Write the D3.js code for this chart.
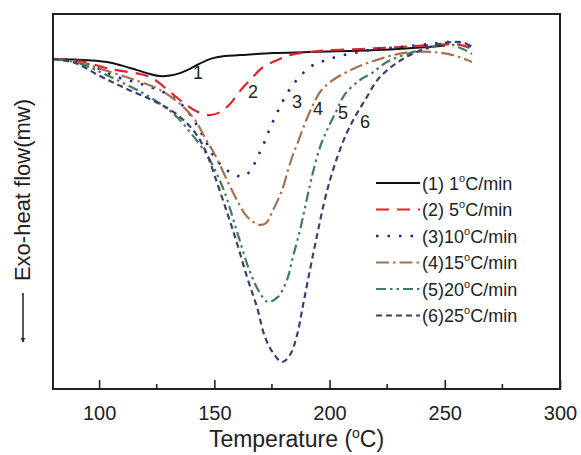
<!DOCTYPE html>
<html>
<head>
<meta charset="utf-8">
<script src="https://cdn.jsdelivr.net/npm/d3@7"></script>
<style>
  html, body { margin: 0; padding: 0; background: #fff; }
  svg { display: block; font-family: "Liberation Sans", Arial, sans-serif; }
</style>
</head>
<body>
<svg id="chart" width="581" height="455"></svg>
<script>
// DSC exotherms of the curing reaction at six heating rates
// temperature in °C, heat flow in mW (relative to the starting baseline)

const t1  = [80, 89.5, 103.4, 109.9, 116.5, 122.1, 126.4, 130.8, 135.1, 139.4, 142.5, 146, 149.4, 154.6, 161.1, 175.5, 191.5, 208.9, 226.2, 239.3, 250.1];
const hf1 = [0, -0.02, -0.10, -0.22, -0.37, -0.50, -0.57, -0.55, -0.47, -0.33, -0.20, -0.07, 0.03, 0.10, 0.13, 0.20, 0.23, 0.27, 0.32, 0.38, 0.45];

const t2  = [80, 91.7, 104.7, 117.8, 122.1, 125.6, 130.8, 137.3, 142.9, 148.1, 152.5, 156.8, 161.1, 165.5, 170.7, 176.3, 182.8, 195.9, 213.2, 230.6, 247.9, 256.6, 261.8];
const hf2 = [0, -0.07, -0.33, -0.50, -0.60, -0.77, -1.10, -1.50, -1.77, -1.87, -1.77, -1.50, -1.07, -0.70, -0.30, -0.07, 0.13, 0.27, 0.33, 0.40, 0.48, 0.47, 0.33];

const t3  = [80, 86.5, 96.1, 107.8, 115.6, 122.1, 128.6, 136, 141.6, 146, 150.3, 155.9, 160.3, 163.3, 166.4, 169, 171.6, 174.2, 177.2, 180.7, 185, 191.5, 197.2, 204.5, 217.6, 230.6, 243.6, 253.1, 258.8, 261.8];
const hf3 = [0, -0.03, -0.20, -0.60, -0.77, -0.93, -1.13, -1.53, -2.10, -2.70, -3.30, -3.73, -3.90, -3.90, -3.63, -3.23, -2.80, -2.30, -1.80, -1.27, -0.77, -0.27, -0.07, 0.10, 0.30, 0.40, 0.50, 0.57, 0.53, 0.40];

const t4  = [80, 91.7, 104.7, 115.6, 126.4, 135.1, 141.6, 146, 150.3, 155.9, 159.8, 163.3, 166.8, 169.8, 172.4, 175.5, 179.4, 182, 184.1, 186.3, 189.4, 192.4, 195.9, 201.5, 207.6, 214.1, 220.6, 227.5, 234.9, 244.9, 253.6, 261.8];
const hf4 = [0, -0.13, -0.43, -0.70, -1.03, -1.50, -2.03, -2.63, -3.20, -4.10, -4.70, -5.17, -5.43, -5.53, -5.47, -5.03, -4.37, -3.70, -3.20, -2.77, -2.13, -1.60, -1.10, -0.70, -0.43, -0.20, -0.03, 0.13, 0.23, 0.23, 0.13, -0.10];

const t5  = [80, 89.5, 100.4, 111.2, 122.1, 132.9, 139.4, 146, 150.3, 154.6, 160.3, 165.5, 169.8, 173.3, 177.6, 181.5, 184.1, 187.2, 189.4, 191.5, 193.3, 195.9, 198.9, 203.2, 206.7, 213.2, 218.4, 224.9, 234.9, 244.9, 250.1, 257.9, 261.8];
const hf5 = [0, -0.10, -0.43, -0.83, -1.27, -1.87, -2.43, -3.10, -3.70, -4.47, -5.87, -7.10, -7.80, -8.10, -7.93, -7.37, -6.60, -5.70, -4.93, -4.20, -3.63, -2.93, -2.37, -1.70, -1.17, -0.70, -0.47, -0.10, 0.20, 0.40, 0.53, 0.33, 0.17];

const t6  = [80, 89.5, 100.4, 111.2, 123, 132.9, 140.8, 146, 151.2, 155.9, 159.8, 164.2, 168.5, 172, 175.5, 179.4, 182.8, 185.9, 188.5, 191.5, 194.6, 197.6, 200.6, 203.7, 207.1, 211, 215.4, 221, 227.5, 234.9, 243.6, 253.6, 259.6, 261.8];
const hf6 = [0, -0.13, -0.57, -0.97, -1.37, -1.80, -2.37, -3.03, -4.13, -5.20, -6.13, -7.27, -8.27, -9.27, -9.80, -10.10, -9.87, -9.20, -8.20, -7.03, -5.87, -4.80, -3.93, -3.20, -2.53, -1.93, -1.37, -0.68, -0.22, 0.13, 0.40, 0.57, 0.50, 0.30];

const rateLabels  = ["(1) 1", "(2) 5", "(3)10", "(4)15", "(5)20", "(6)25"];
const curveNames  = ["1", "2", "3", "4", "5", "6"];
const nameTemps   = [142.9, 166.8, 185.9, 195.0, 205.8, 215.4];
const nameFlows   = [-0.47, -1.10, -1.43, -1.67, -1.80, -2.10];
const majorTicks  = [100, 150, 200, 250, 300];
const minorTicks  = [125, 175, 225, 275];

const temps = [t1, t2, t3, t4, t5, t6];
const flows = [hf1, hf2, hf3, hf4, hf5, hf6];

// line appearance for each heating rate
const styles = [
  { color: "#111111", dash: null,               width: 2.0 },
  { color: "#e3202b", dash: "13,8",             width: 2.2 },
  { color: "#24248a", dash: "2.5,9",            width: 2.6 },
  { color: "#a5714c", dash: "13,4,2.5,4",       width: 2.2 },
  { color: "#3f7d5b", dash: "10,4,2.5,4,2.5,4", width: 2.2 },
  { color: "#3d3d70", dash: "6,4",              width: 2.2 }
];

const svg = d3.select("#chart");
const plotLeft = 53, plotRight = 560, plotTop = 14, plotBottom = 389;

const x = d3.scaleLinear().domain([80, 300]).range([plotLeft, plotRight]);
const y = d3.scaleLinear().domain([-11, 1.5]).range([plotBottom, plotTop]);

const line = d3.line()
  .x(d => x(d[0]))
  .y(d => y(d[1]))
  .curve(d3.curveCatmullRom.alpha(0.5));

const defs = svg.append("defs");
defs.append("clipPath").attr("id", "plotClip")
  .append("rect").attr("x", plotLeft).attr("y", plotTop)
  .attr("width", plotRight - plotLeft).attr("height", plotBottom - plotTop);

const curves = svg.append("g").attr("clip-path", "url(#plotClip)");
temps.forEach((ts, i) => {
  const pts = ts.map((t, k) => [t, flows[i][k]]);
  curves.append("path")
    .attr("d", line(pts))
    .attr("fill", "none")
    .attr("stroke", styles[i].color)
    .attr("stroke-width", styles[i].width)
    .attr("stroke-dasharray", styles[i].dash)
    .attr("stroke-linejoin", "round");
});

// curve numbers
curveNames.forEach((n, i) => {
  svg.append("text")
    .attr("x", x(nameTemps[i]))
    .attr("y", y(nameFlows[i]))
    .attr("text-anchor", "middle")
    .attr("dominant-baseline", "central")
    .attr("font-size", 18)
    .attr("fill", "#222")
    .text(n);
});

// bottom axis with inward ticks
const xAxis = d3.axisBottom(x).tickValues(majorTicks).tickSize(-9).tickPadding(17).tickFormat(d3.format("d"));
const gx = svg.append("g").attr("transform", `translate(0,${plotBottom})`).call(xAxis);
gx.select(".domain").remove();
gx.selectAll(".tick line").attr("stroke", "#222").attr("stroke-width", 1.6);
gx.selectAll(".tick text").attr("font-size", 20).attr("fill", "#222")
  .attr("font-family", "Liberation Sans, Arial, sans-serif");

svg.append("g").selectAll("line").data(minorTicks).join("line")
  .attr("x1", d => x(d)).attr("x2", d => x(d))
  .attr("y1", plotBottom).attr("y2", plotBottom - 5)
  .attr("stroke", "#222").attr("stroke-width", 1.6);

// frame
svg.append("rect")
  .attr("x", plotLeft).attr("y", plotTop)
  .attr("width", plotRight - plotLeft).attr("height", plotBottom - plotTop)
  .attr("fill", "none").attr("stroke", "#222").attr("stroke-width", 2);

// axis titles
const xt = svg.append("text")
  .attr("x", (plotLeft + plotRight) / 2 - 10).attr("y", 447)
  .attr("text-anchor", "middle").attr("font-size", 23).attr("fill", "#222");
xt.append("tspan").text("Temperature (");
xt.append("tspan").attr("font-size", 14).attr("dy", -9).text("o");
xt.append("tspan").attr("dy", 9).text("C)");

svg.append("text")
  .attr("transform", "translate(30,190) rotate(-90)")
  .attr("text-anchor", "middle").attr("font-size", 22).attr("fill", "#222")
  .text("Exo-heat flow(mw)");

// downward arrow beside the y title
defs.append("marker")
  .attr("id", "arrowHead").attr("viewBox", "0 0 10 10")
  .attr("refX", 9).attr("refY", 5)
  .attr("markerWidth", 5).attr("markerHeight", 7).attr("orient", "auto")
  .attr("markerUnits", "userSpaceOnUse")
  .append("path").attr("d", "M0,0 L10,5 L0,10 z").attr("fill", "#222");
svg.append("line")
  .attr("x1", 23).attr("x2", 23).attr("y1", 293).attr("y2", 342)
  .attr("stroke", "#222").attr("stroke-width", 1.5)
  .attr("marker-end", "url(#arrowHead)");

// legend
const legend = svg.append("g");
rateLabels.forEach((lab, i) => {
  const ly = 183 + i * 26.5;
  legend.append("line")
    .attr("x1", 376).attr("x2", 420).attr("y1", ly).attr("y2", ly)
    .attr("stroke", styles[i].color)
    .attr("stroke-width", styles[i].width)
    .attr("stroke-dasharray", styles[i].dash);
  const tx = legend.append("text")
    .attr("x", 422).attr("y", ly + 6.5)
    .attr("font-size", 18).attr("fill", "#222");
  tx.append("tspan").text(lab);
  tx.append("tspan").attr("font-size", 11).attr("dy", -8).text("o");
  tx.append("tspan").attr("dy", 8).text("C/min");
});
</script>
</body>
</html>
